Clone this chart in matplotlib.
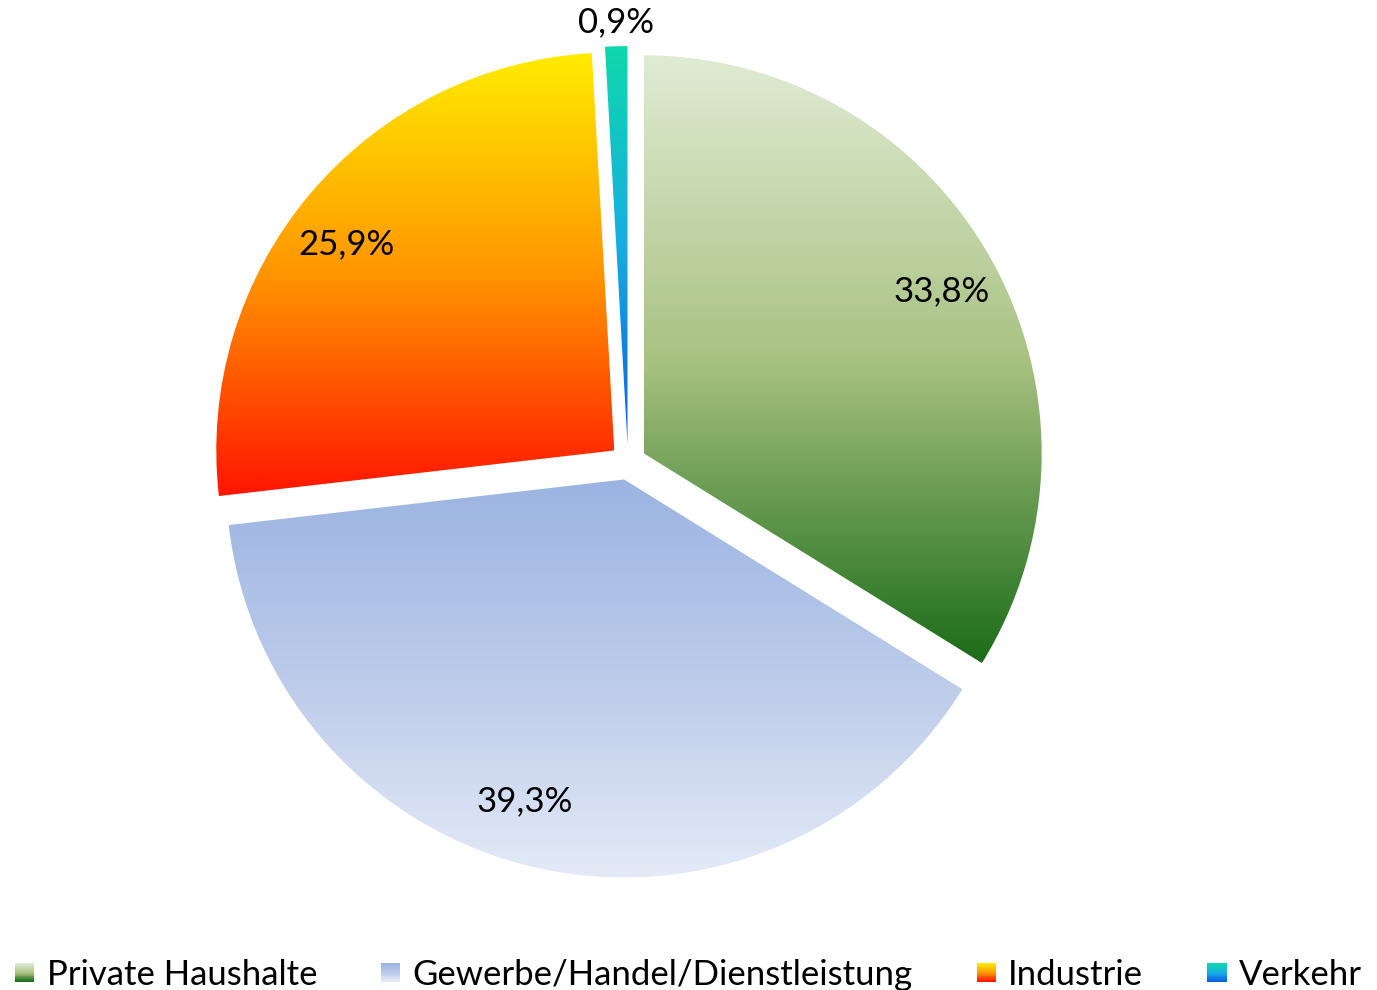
import numpy as np
import matplotlib
matplotlib.use("Agg")
import matplotlib.pyplot as plt
from matplotlib.colors import LinearSegmentedColormap
from matplotlib.patches import Rectangle
from matplotlib.legend_handler import HandlerBase

plt.rcParams['font.family'] = ['Lato', 'DejaVu Sans']

categories = ["Private Haushalte", "Gewerbe/Handel/Dienstleistung", "Industrie", "Verkehr"]
values = [33.8, 39.3, 25.9, 0.9]
labels = ["33,8%", "39,3%", "25,9%", "0,9%"]

# gradient stops top -> bottom for each slice
gradients = [
    ["#e0ebd4", "#a9c282", "#1b6c19"],
    ["#9cb4e2", "#bccbea", "#e4eaf7"],
    ["#ffec00", "#ff9500", "#ff1500"],
    ["#10d8ac", "#16aee2", "#0a5fe0"],
]

W, H = 1377, 990
fig = plt.figure(figsize=(W / 100, H / 100), dpi=100)
ax = fig.add_axes([0, 0, 1, 1])
R = 398.0
cx, cy = 628.0, 462.0

wedges, texts = ax.pie(
    values, startangle=90, counterclock=False,
    explode=[0.045] * 4, radius=1.0, center=(0, 0),
    wedgeprops=dict(linewidth=0), frame=False)

cmaps = [LinearSegmentedColormap.from_list(f"g{i}", g[::-1]) for i, g in enumerate(gradients)]

for i, w in enumerate(wedges):
    w.set_facecolor('none')
    bb = w.get_path().get_extents(w.get_patch_transform())
    grad = np.linspace(0, 1, 256).reshape(-1, 1)
    im = ax.imshow(grad, cmap=cmaps[i], origin='lower', aspect='auto',
                   extent=[bb.x0, bb.x1, bb.y0, bb.y1], interpolation='bicubic', zorder=1)
    im.set_clip_path(w)

# labels (placement tweaks relative to slice mid-angle)
label_dist = [0.852, 0.845, 0.85, 1.06]
label_shift = [-0.5, -4.5, 2.5, 0.0]
for i, w in enumerate(wedges):
    theta = np.deg2rad((w.theta1 + w.theta2) / 2 + label_shift[i])
    c = w.center
    d = label_dist[i]
    ax.text(c[0] + d * np.cos(theta), c[1] + d * np.sin(theta), labels[i],
            ha='center', va='center', fontsize=25, color='black', zorder=5)

ax.set_xlim(-cx / R, (W - cx) / R)
ax.set_ylim(-(H - cy) / R, cy / R)
ax.set_aspect('equal')
ax.axis('off')


class GradHandler(HandlerBase):
    def __init__(self, stops):
        super().__init__()
        self.stops = stops

    def create_artists(self, legend, orig_handle, xdescent, ydescent, width, height, fontsize, trans):
        cm = LinearSegmentedColormap.from_list("lg", self.stops[::-1])
        n = 20
        s = min(width, height)
        x0 = -xdescent + (width - s)
        y0 = -ydescent + (height - s) / 2
        arts = []
        for k in range(n):
            r = Rectangle((x0, y0 + k * s / n), s, s / n + 0.2, facecolor=cm(k / (n - 1)),
                          edgecolor='none', transform=trans)
            arts.append(r)
        return arts


handles = [Rectangle((0, 0), 1, 1) for _ in categories]
hmap = {h: GradHandler(g) for h, g in zip(handles, gradients)}
leg = fig.legend(handles, categories, handler_map=hmap, loc='lower center',
                 bbox_to_anchor=(0.5, -0.029), ncol=4, frameon=False, fontsize=25,
                 handlelength=0.55, handleheight=0.55, handletextpad=0.35, columnspacing=1.85,
                 borderpad=0.3)

fig.savefig("out.png", dpi=100)
